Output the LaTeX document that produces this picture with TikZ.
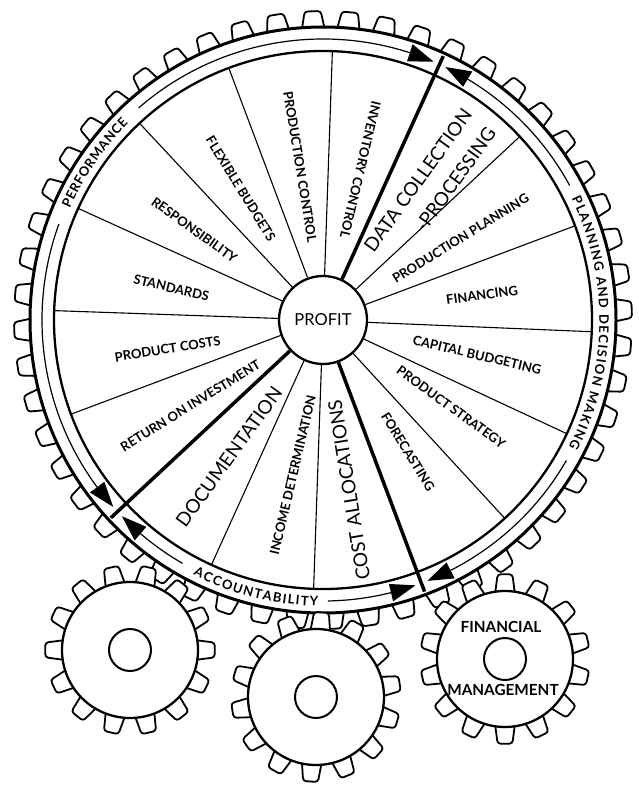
\documentclass[tikz,border=0pt]{standalone}
\usepackage{fontspec}
\setmainfont{Lato}
\usetikzlibrary{calc,decorations.text}
\newcommand\bandfont{\fontsize{13}{15}\selectfont\bfseries}
\tikzset{
  tooth/.style={draw=black,fill=white,line width=1.8pt,rounded corners=3pt},
  rim/.style={draw=black,line width=3pt},
  ringline/.style={draw=black,line width=2.3pt},
  midline/.style={draw=black,line width=1.2pt},
  spoke/.style={draw=black,line width=1.1pt},
  mainspoke/.style={draw=black,line width=3.5pt},
  gearbody/.style={draw=black,fill=white,line width=2.3pt},
  hubline/.style={draw=black,line width=2pt},
  gate/.style={fill=black},
  lbl/.style={font=\fontsize{13}{15}\selectfont\bfseries,inner sep=0pt},
  biglbl/.style={font=\fontsize{19}{21}\selectfont,inner sep=0pt},
  fmlbl/.style={font=\fontsize{15.3}{17}\selectfont\bfseries,inner sep=0pt},
  band/.style={decorate,decoration={text along path,text align=fit to path,text={|\bandfont|#1}}},
}
\begin{document}
\begin{tikzpicture}[x=1pt,y=1pt]
  \useasboundingbox (0,0) rectangle (638,-787);
  \coordinate (C) at (323,-320);
  % big wheel
  \begin{scope}[shift={(C)}]
    \foreach \k in {0,...,51} {
      \pgfmathsetmacro\t{85+6.923*\k}
      \pgfmathsetmacro\ta{\t-2.2} \pgfmathsetmacro\tb{\t-1.5}
      \pgfmathsetmacro\tc{\t+1.5} \pgfmathsetmacro\td{\t+2.2}
      \draw[tooth] (\ta:292) -- (\tb:309) -- (\tc:309) -- (\td:292);
    }
    \draw[rim] (0,0) circle[radius=293];
    \draw[ringline] (0,0) circle[radius=269];
    \foreach \s/\e in {72/131,160/216.5,229.5/240,271/284,297/330,28.6/59}
      \draw[midline] (\s:281) arc[start angle=\s,end angle=\e,radius=281];
    \path[band=PERFORMANCE] (156.2:276.5) arc[start angle=156.2,end angle=134.7,radius=276.5];
    \path[band=PLANNING AND DECISION MAKING] (26:276.5) arc[start angle=26,end angle=-27.3,radius=276.5];
    \path[band=ACCOUNTABILITY] (243:286) arc[start angle=243,end angle=269,radius=286];
  \end{scope}
  \node[circle,draw,line width=2.3pt,fill=white,minimum size=88pt,inner sep=0pt,
        font=\fontsize{16.5}{18}\selectfont] (profit) at (C) {PROFIT};
  % spokes
  \foreach \t in {88,110.5,133,155.5,178,200.5,245.5,268,312.5,335,357.5,20.5,43}
    \draw[spoke] (profit.\t) -- ($(C)+(\t:269)$);
  \foreach \t in {65.5,223,290.5} {
    \draw[mainspoke] (profit.\t) -- ($(C)+(\t:290)$);
    \begin{scope}[shift={(C)}]
      \pgfmathsetmacro\ga{\t+1.3} \pgfmathsetmacro\gb{\t+6.5}
      \pgfmathsetmacro\gc{\t-1.3} \pgfmathsetmacro\gd{\t-6.5}
      \fill[gate] (\ga:281) -- (\gb:272) -- (\gb:290) -- cycle;
      \fill[gate] (\gc:281) -- (\gd:272) -- (\gd:290) -- cycle;
    \end{scope}
  }
  % sector labels
  \foreach \a/\r/\rot/\txt [count=\k] in {
      98.5/155/279.25/PRODUCTION CONTROL,
      76/155/256.75/INVENTORY CONTROL,
      30.7/160/31.75/PRODUCTION PLANNING,
      8.9/161/8/FINANCING,
      -12.8/158/-13.25/CAPITAL BUDGETING,
      -34.2/155/-35.75/PRODUCT STRATEGY,
      -57.2/157/-58.25/FORECASTING,
      259/158/76.75/INCOME DETERMINATION,
      212.9/158/31.75/RETURN ON INVESTMENT,
      190.6/158/9.25/PRODUCT COSTS,
      168/155/-13.25/STANDARDS,
      145/157/-35.75/RESPONSIBILITY,
      122/155/-58.25/FLEXIBLE BUDGETS}
    \node[lbl,rotate=\rot] (sec\k) at ($(C)+(\a:\r)$) {\txt};
  \node[biglbl,rotate=99.25] (costs) at ($(C)+(-81.3:172)$) {COST ALLOCATIONS};
  \node[biglbl,rotate=54.25] (docu) at ($(C)+(235.5:166)$) {DOCUMENTATION};
  \node[biglbl,rotate=54.25] (data) at ($(C)+(55.8:169)$) {DATA COLLECTION};
  \node[biglbl,rotate=54.25] (proc) at ($(C)+(46.7:193)$) {-PROCESSING};
  % small gears
  \foreach \cx/\cy/\ph in {130/650/180,316/697/112,505/659/90} {
    \begin{scope}[shift={(\cx,-\cy)}]
      \foreach \k in {0,...,13} {
        \pgfmathsetmacro\t{\ph+25.714*\k}
        \pgfmathsetmacro\ta{\t-8.4} \pgfmathsetmacro\tb{\t-5}
        \pgfmathsetmacro\tc{\t+5} \pgfmathsetmacro\td{\t+8.4}
        \draw[tooth] (\ta:67) -- (\tb:85) -- (\tc:85) -- (\td:67);
      }
      \draw[gearbody] (0,0) circle[radius=68];
      \draw[hubline] (0,0) circle[radius=21];
    \end{scope}
  }
  \node[fmlbl] (fin) at (501,-627) {FINANCIAL};
  \node[fmlbl] (mgt) at (503,-690) {MANAGEMENT};
\end{tikzpicture}
\end{document}
